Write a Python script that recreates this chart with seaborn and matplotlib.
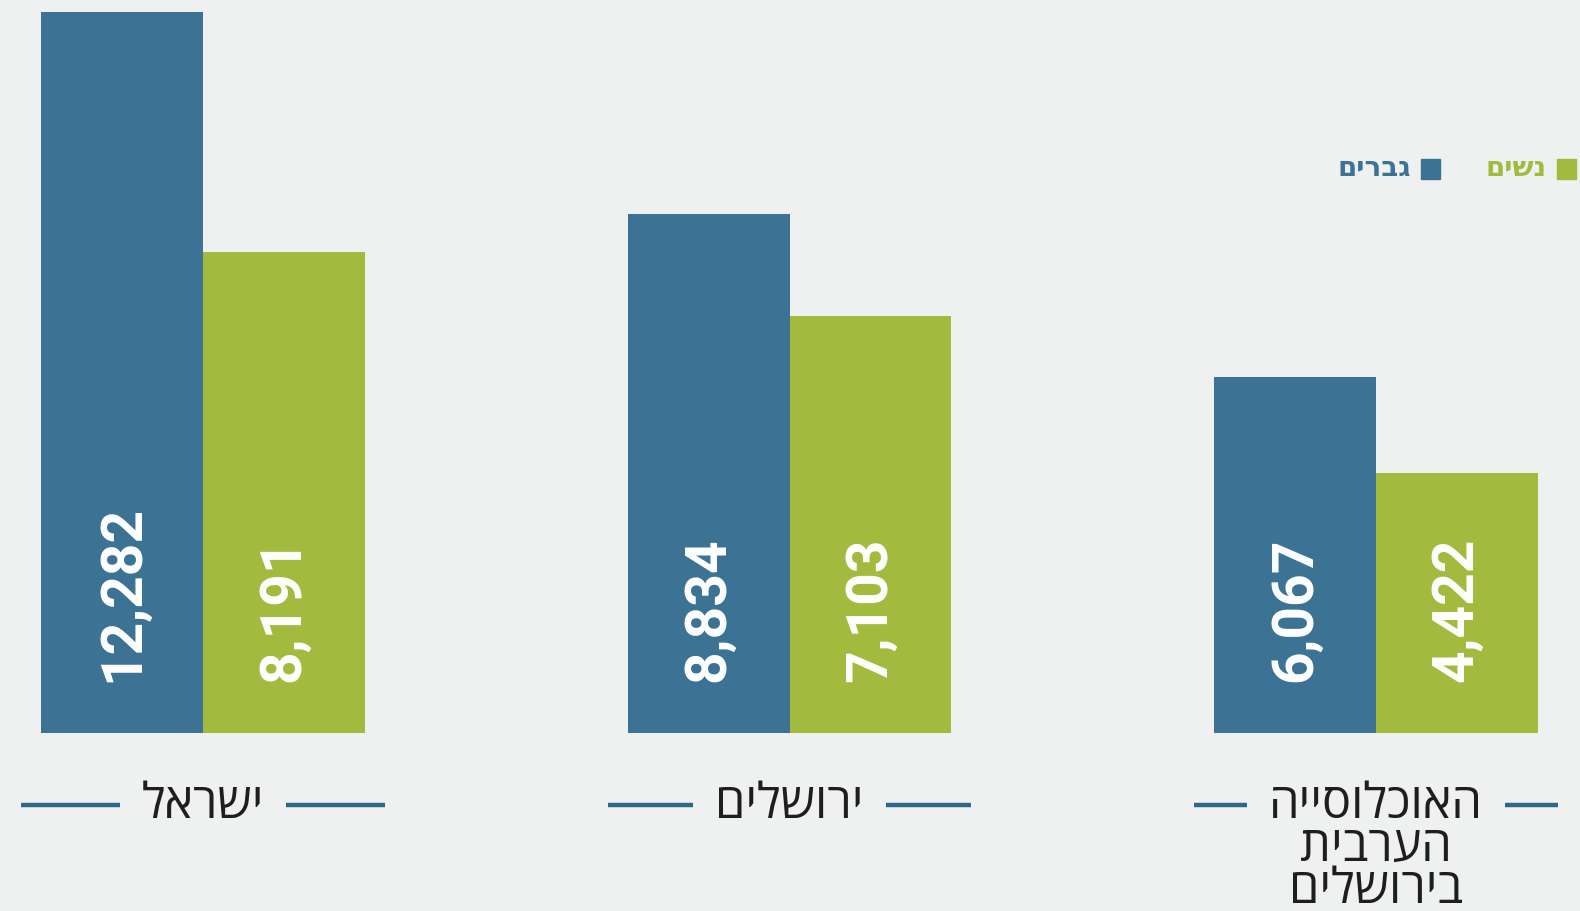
import pandas as pd
import matplotlib.pyplot as plt
import matplotlib.transforms as mtransforms
import seaborn as sns
from matplotlib.patches import Rectangle

# data
groups = ["ישראל", "ירושלים", "האוכלוסייה\nהערבית\nבירושלים"]
series = ["גברים", "נשים"]
men = [12282, 8834, 6067]
women = [8191, 7103, 4422]

blue = "#3c7293"
green = "#a2bb3f"
bg = "#eff1f1"
line_col = "#2f6787"


def rtl(s):
    # matplotlib has no bidi support, so flip each line for display
    return "\n".join(line[::-1] for line in s.split("\n"))


df = pd.DataFrame({
    "group": groups * 2,
    "series": [series[0]] * 3 + [series[1]] * 3,
    "value": men + women,
})

sns.set_theme(style="white")
plt.rcParams["font.family"] = ["Open Sans", "DejaVu Sans"]

W, H = 1580, 911
unit = 586.5  # pixels per category step
fig = plt.figure(figsize=(W / 100, H / 100), dpi=100, facecolor=bg)
ax = fig.add_axes([0, 178 / H, 1, 721 / H])
ax.set_facecolor(bg)

sns.barplot(data=df, x="group", y="value", hue="series", order=groups,
            hue_order=series, palette={series[0]: blue, series[1]: green},
            width=0.551, saturation=1, errorbar=None, legend=False, ax=ax,
            linewidth=0)

ax.set_ylim(0, max(men))
ax.set_xlim(-203 / unit, (W - 203) / unit)
ax.set_xticks([])
ax.set_yticks([])
ax.set_xlabel("")
ax.set_ylabel("")
sns.despine(ax=ax, left=True, bottom=True)

# value labels, rotated inside the bars near the bottom
for cont in ax.containers:
    for bar, v in zip(cont, cont.datavalues):
        ax.annotate(f"{int(v):,}", xy=(bar.get_x() + bar.get_width() / 2, 0),
                    xytext=(0, 37), textcoords="offset points",
                    rotation=90, ha="center", va="bottom", color="white",
                    fontsize=41, fontweight="bold",
                    family=["Roboto", "DejaVu Sans"])

# group labels with flanking lines
fig.canvas.draw()
renderer = fig.canvas.get_renderer()
trans = mtransforms.blended_transform_factory(ax.transData, fig.transFigure)
y_line = 1 - 805 / H
half = 0.31
fs = 35
for i, g in enumerate(groups):
    first = rtl(g.split("\n")[0])
    probe = ax.text(i, y_line, first, transform=trans, ha="center",
                    va="center", fontsize=fs)
    bb = probe.get_window_extent(renderer)
    probe.remove()
    top = y_line + (bb.height / 2) / H
    ax.text(i, top, rtl(g), transform=trans, ha="center", va="top",
            multialignment="center", linespacing=0.82, fontsize=fs,
            color="#1e1e1e", clip_on=False)
    gap = (bb.width / 2 + 22) / unit
    for x0, x1 in [(i - half, i - gap), (i + gap, i + half)]:
        ax.plot([x0, x1], [y_line, y_line], color=line_col, lw=3.2,
                transform=trans, clip_on=False, solid_capstyle="butt")

# legend, right to left
ly = 1 - 169 / H
for label, col, sq_x, tx in [(series[1], green, 1557, 1547), (series[0], blue, 1421, 1411)]:
    fig.patches.append(Rectangle((sq_x / W, ly - 10 / H), 19 / W, 20 / H,
                                 transform=fig.transFigure, color=col))
    fig.text(tx / W, ly, rtl(label), ha="right", va="center", color=col,
             fontsize=20, fontweight="bold")

fig.savefig("out.png", dpi=100, facecolor=bg)
